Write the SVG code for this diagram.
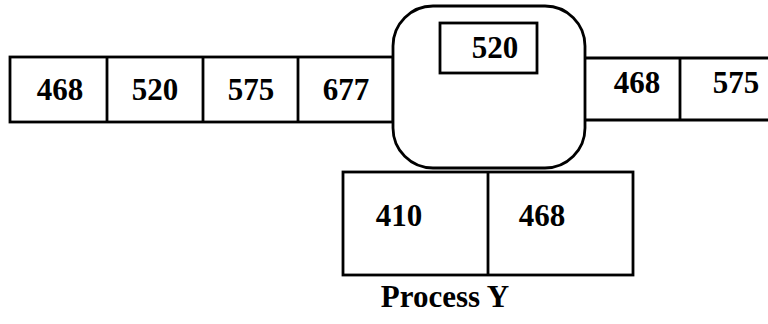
<svg xmlns="http://www.w3.org/2000/svg" width="768" height="324" viewBox="0 0 768 324">
<style>
.b{fill:#fff;stroke:#000;stroke-width:2.8}
.l{stroke:#000;stroke-width:2.8;fill:none}
text{font-family:"Liberation Serif",serif;font-weight:bold;font-size:31px;fill:#000;text-anchor:middle}
</style>
<rect width="768" height="324" fill="#fff"/>
<g id="left-queue">
<rect class="b" x="10" y="57" width="383" height="65"/>
<line class="l" x1="107" y1="57" x2="107" y2="122"/>
<line class="l" x1="203" y1="57" x2="203" y2="122"/>
<line class="l" x1="298" y1="57" x2="298" y2="122"/>
<text x="60" y="100">468</text>
<text x="155" y="100">520</text>
<text x="251" y="100">575</text>
<text x="346" y="100">677</text>
</g>
<g id="right-queue">
<path class="l" d="M585 58 H770 M585 120 H770 M680 58 V120"/>
<text x="637" y="93">468</text>
<text x="736" y="93">575</text>
</g>
<g id="process">
<rect class="b" x="393" y="6" width="192" height="162" rx="40" ry="40"/>
<rect class="b" x="440" y="23" width="97" height="50"/>
<text x="495" y="58">520</text>
</g>
<g id="bottom-queue">
<rect class="b" x="343" y="172" width="290" height="103"/>
<line class="l" x1="488" y1="172" x2="488" y2="275"/>
<text x="399" y="226">410</text>
<text x="542" y="226">468</text>
</g>
<g id="label">
<text x="445" y="307" font-size="34">Process Y</text>
</g>
<g id="connectors"/>
</svg>
